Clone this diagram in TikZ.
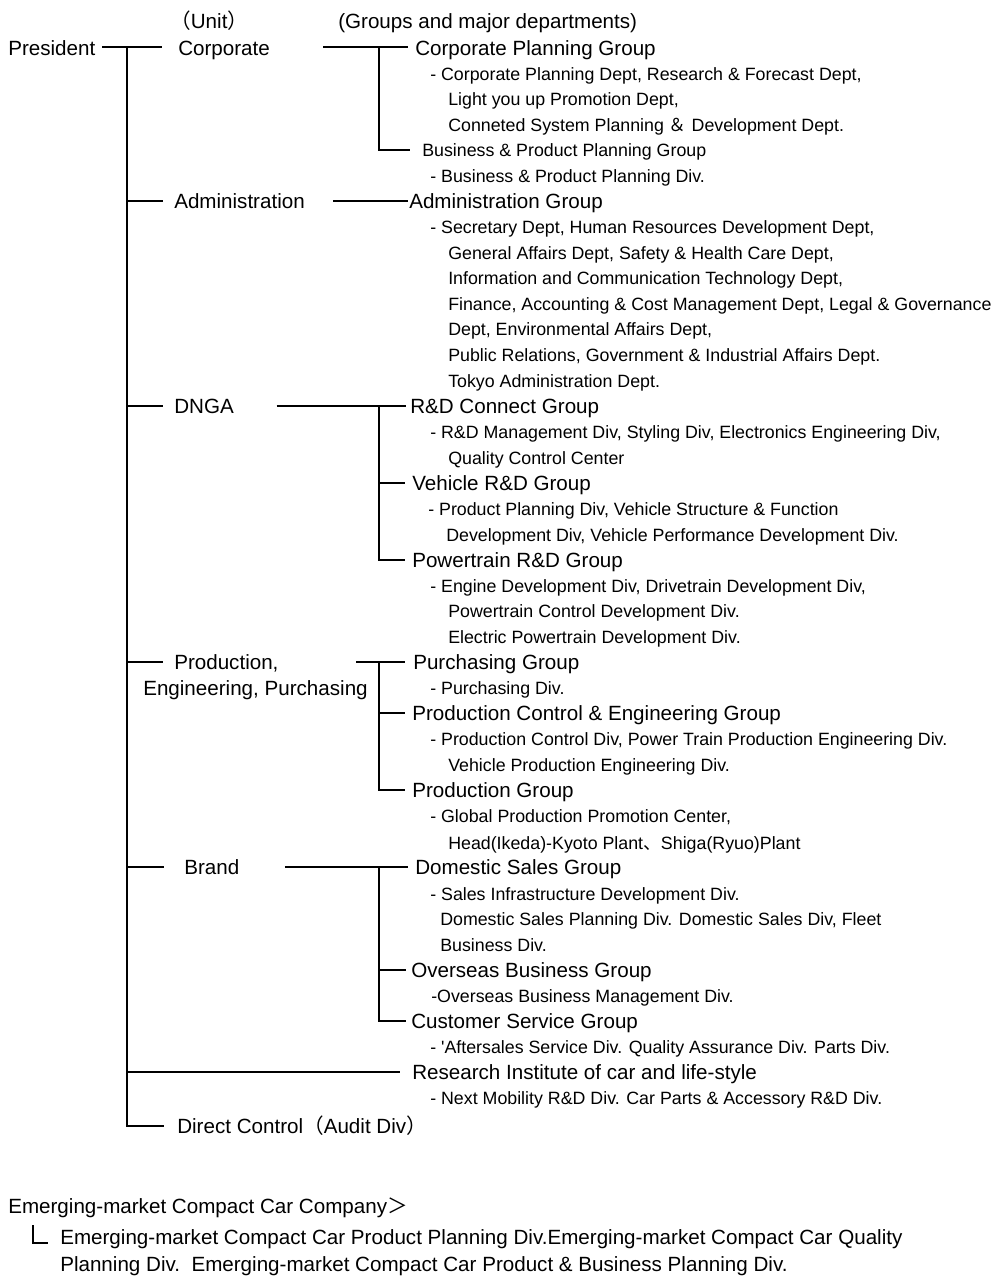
\documentclass[tikz,border=0pt]{standalone}
\usepackage{fontspec}
\setmainfont{Liberation Sans}[Ligatures=TeXOff]
\newfontfamily\cjk{Noto Sans CJK JP}
\newcommand\bigf{\fontsize{15.45}{18}\selectfont}
\newcommand\smf{\fontsize{13.35}{16}\selectfont}
\begin{document}
\begin{tikzpicture}[x=0.75pt,y=-0.75pt,
  big/.style={font=\bigf,anchor=west,inner sep=0pt,text height=11.06pt,text depth=0pt},
  sm/.style={font=\smf,anchor=west,inner sep=0pt,text height=9.56pt,text depth=0pt},
  ln/.style={line width=1.1pt,line cap=butt,line join=miter},
  thinln/.style={line width=0.8pt}]
\useasboundingbox (0,0) rectangle (1000,1288);
% headers
\node[big] (hunit) at (170,21) {{\cjk （}Unit{\cjk ）}};
\node[big] (hgrp) at (338,21) {(Groups and major departments)};
% units
\node[big] (pres) at (8,48) {President};
\node[big] (corp) at (178,48) {Corporate};
\node[big] (adm) at (174,201) {Administration};
\node[big] (dnga) at (174,406) {DNGA};
\node[big] (prod1) at (174,662) {Production,};
\node[big] (prod2) at (143,688) {Engineering, Purchasing};
\node[big] (brand) at (184,867) {Brand};
\node[big] (direct) at (177,1126) {Direct Control{\cjk （}Audit Div{\cjk ）}};
% Corporate groups
\node[big] (cpg) at (415,48) {Corporate Planning Group};
\node[sm] (cpg1) at (430,74) {- Corporate Planning Dept, Research \& Forecast Dept,};
\node[sm] (cpg2) at (448,99) {Light you up Promotion Dept,};
\node[sm] (cpg3) at (448,125) {Conneted System Planning {\cjk ＆} Development Dept.};
\node[sm] (bppg) at (422,150) {Business \& Product Planning Group};
\node[sm] (bppg1) at (430,176) {- Business \& Product Planning Div.};
% Administration
\node[big] (ag) at (409,201) {Administration Group};
\node[sm] (ag1) at (430,227) {- Secretary Dept, Human Resources Development Dept,};
\node[sm] (ag2) at (448,253) {General Affairs Dept, Safety \& Health Care Dept,};
\node[sm] (ag3) at (448,278) {Information and Communication Technology Dept,};
\node[sm] (ag4) at (448,304) {Finance, Accounting \& Cost Management Dept, Legal \& Governance};
\node[sm] (ag5) at (448,329) {Dept, Environmental Affairs Dept,};
\node[sm] (ag6) at (448,355) {Public Relations, Government \& Industrial Affairs Dept.};
\node[sm] (ag7) at (448,381) {Tokyo Administration Dept.};
% DNGA
\node[big] (rdc) at (410,406) {R\&D Connect Group};
\node[sm] (rdc1) at (430,432) {- R\&D Management Div, Styling Div, Electronics Engineering Div,};
\node[sm] (rdc2) at (448,458) {Quality Control Center};
\node[big] (vrd) at (412,483) {Vehicle R\&D Group};
\node[sm] (vrd1) at (428,509) {- Product Planning Div, Vehicle Structure \& Function};
\node[sm] (vrd2) at (446,535) {Development Div, Vehicle Performance Development Div.};
\node[big] (prd) at (412,560) {Powertrain R\&D Group};
\node[sm] (prd1) at (430,586) {- Engine Development Div, Drivetrain Development Div,};
\node[sm] (prd2) at (448,611) {Powertrain Control Development Div.};
\node[sm] (prd3) at (448,637) {Electric Powertrain Development Div.};
% Production
\node[big] (pug) at (413,662) {Purchasing Group};
\node[sm] (pug1) at (430,688) {- Purchasing Div.};
\node[big] (pceg) at (412,713) {Production Control \& Engineering Group};
\node[sm] (pceg1) at (430,739) {- Production Control Div, Power Train Production Engineering Div.};
\node[sm] (pceg2) at (448,765) {Vehicle Production Engineering Div.};
\node[big] (pg) at (412,790) {Production Group};
\node[sm] (pg1) at (430,816) {- Global Production Promotion Center,};
\node[sm] (pg2) at (448,843) {Head(Ikeda)-Kyoto Plant{\cjk 、}Shiga(Ryuo)Plant};
% Brand
\node[big] (dsg) at (415,867) {Domestic Sales Group};
\node[sm] (dsg1) at (430,894) {- Sales Infrastructure Development Div.};
\node[sm] (dsg2) at (440,919) {Domestic Sales Planning Div. Domestic Sales Div, Fleet};
\node[sm] (dsg3) at (440,945) {Business Div.};
\node[big] (obg) at (411,970) {Overseas Business Group};
\node[sm] (obg1) at (431,996) {-Overseas Business Management Div.};
\node[big] (csg) at (411,1021) {Customer Service Group};
\node[sm] (csg1) at (430,1047) {- 'Aftersales Service Div. Quality Assurance Div. Parts Div.};
% Research institute
\node[big] (ri) at (412,1072) {Research Institute of car and life-style};
\node[sm] (ri1) at (430,1098) {- Next Mobility R\&D Div. Car Parts \& Accessory R\&D Div.};
% Emerging market
\node[big] (em) at (8,1206) {Emerging-market Compact Car Company{\cjk ＞}};
\node[big] (em1) at (60,1237) {Emerging-market Compact Car Product Planning Div.Emerging-market Compact Car Quality};
\node[big] (em2) at (60,1264) {Planning Div.\ \ Emerging-market Compact Car Product \& Business Planning Div.};
% coordinates of tree
\coordinate (ptop) at (127,47);
\coordinate (pbot) at (127,1126);
\coordinate (ctop) at (379,47);
\coordinate (dtop) at (379,406);
\coordinate (etop) at (379,662);
\coordinate (btop) at (379,867);
% President trunk
\draw[ln] ([xshift=5pt]pres.east |- ptop) -- ([xshift=-12pt]corp.west |- ptop);
\draw[ln] (ptop) -- (pbot) -- ([xshift=-10pt]direct.west |- pbot);
\draw[ln] (ptop |- adm) -- ([xshift=-8pt]adm.west);
\draw[ln] (ptop |- dnga) -- ([xshift=-8pt]dnga.west);
\draw[ln] (ptop |- prod1) -- ([xshift=-8pt]prod1.west);
\draw[ln] (ptop |- brand) -- ([xshift=-15pt]brand.west);
\draw[ln] (ptop |- ri) -- ([xshift=-9pt]ri.west);
% Corporate
\draw[ln] ([xshift=40pt]corp.east |- ctop) -- ([xshift=-5pt]cpg.west |- ctop);
\draw[ln] (ctop) -- (ctop |- bppg) -- ([xshift=-9pt]bppg.west);
% Administration
\draw[ln] ([xshift=21pt]adm.east) -- ([xshift=-1pt]ag.west);
% DNGA
\draw[ln] ([xshift=32pt]dnga.east) -- ([xshift=-3pt]rdc.west);
\draw[ln] (dtop) -- (dtop |- prd) -- ([xshift=-5pt]prd.west);
\draw[ln] (dtop |- vrd) -- ([xshift=-5pt]vrd.west);
% Production
\draw[ln] ([xshift=-17pt]etop) -- ([xshift=-6pt]pug.west);
\draw[ln] (etop) -- (etop |- pg) -- ([xshift=-5pt]pg.west);
\draw[ln] (etop |- pceg) -- ([xshift=-5pt]pceg.west);
% Brand
\draw[ln] ([xshift=34pt]brand.east) -- ([xshift=-5pt]dsg.west);
\draw[ln] (btop) -- (btop |- csg) -- ([xshift=-4pt]csg.west);
\draw[ln] (btop |- obg) -- ([xshift=-4pt]obg.west);
% Emerging-market bracket
\coordinate (eml) at (33,1225);
\draw[thinln] (eml) -- (eml |- 0,1243) -- (48,1243);
\end{tikzpicture}
\end{document}
